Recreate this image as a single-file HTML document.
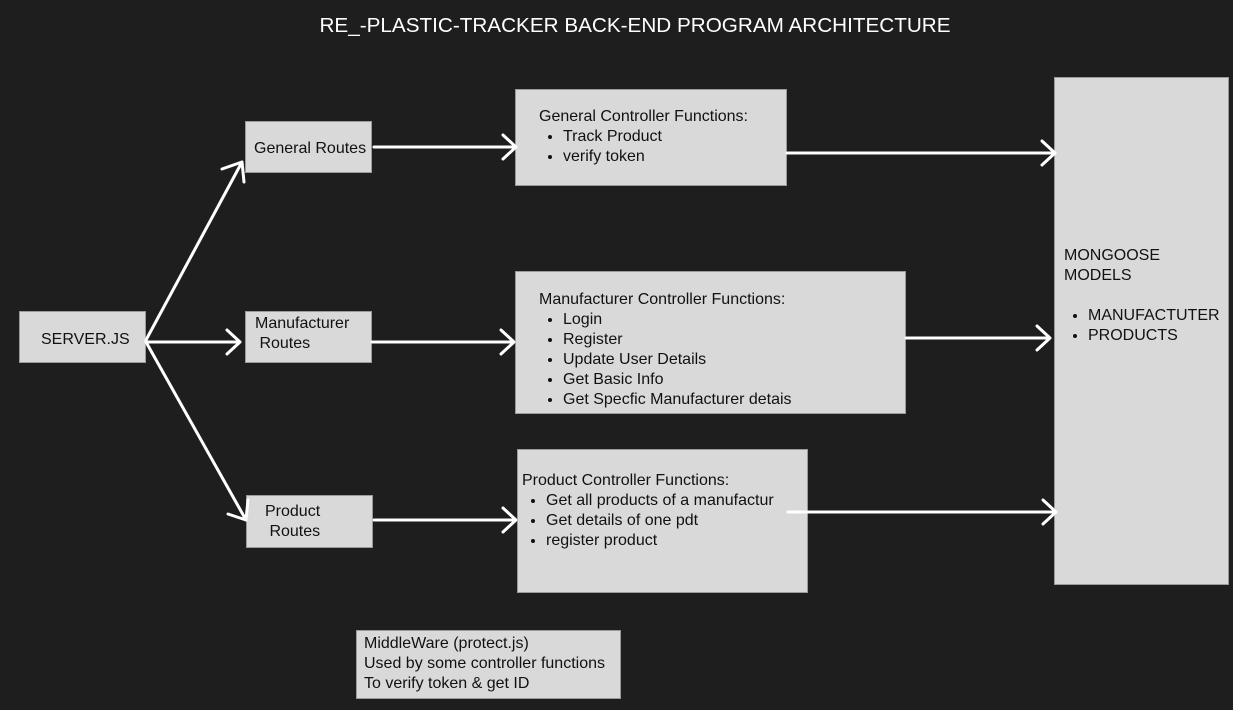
<!DOCTYPE html>
<html><head><meta charset="utf-8"><style>
body{margin:0;width:1233px;height:710px;background:#1e1e1e;overflow:hidden;position:relative;font-family:"Liberation Sans",sans-serif;}
.b{position:absolute;background:#d9d9d9;border:1px solid #9a9a9a;box-sizing:border-box;color:#111;font-size:16px;line-height:20px;}
.t{position:absolute;left:0;width:1270px;top:14px;text-align:center;color:#fff;font-size:20.7px;}
ul{margin:0;padding-left:24px;} li{margin:0;}
svg{position:absolute;left:0;top:0;}
</style></head><body>
<div class="t">RE_-PLASTIC-TRACKER BACK-END PROGRAM ARCHITECTURE</div>
<div class="b" style="left:19px;top:311px;width:127px;height:52px;padding:18px 0 0 21px">SERVER.JS</div>
<div class="b" style="left:245px;top:121px;width:127px;height:52px;padding:17px 0 0 8px">General Routes</div>
<div class="b" style="left:245px;top:311px;width:127px;height:52px;padding:2px 0 0 9px">Manufacturer<br>&nbsp;Routes</div>
<div class="b" style="left:246px;top:495px;width:127px;height:53px;padding:6px 0 0 18px">Product<br>&nbsp;Routes</div>
<div class="b" style="left:515px;top:89px;width:272px;height:97px;padding:17px 0 0 23px">General Controller Functions:<ul><li>Track Product</li><li>verify token</li></ul></div>
<div class="b" style="left:515px;top:271px;width:391px;height:143px;padding:18px 0 0 23px">Manufacturer Controller Functions:<ul><li>Login</li><li>Register</li><li>Update User Details</li><li>Get Basic Info</li><li>Get Specfic Manufacturer detais</li></ul></div>
<div class="b" style="left:517px;top:449px;width:291px;height:144px;padding:21px 0 0 4px">Product Controller Functions:<ul><li>Get all products of a manufactur</li><li>Get details of one pdt</li><li>register product</li></ul></div>
<div class="b" style="left:1054px;top:77px;width:175px;height:508px;padding:168px 0 0 9px">MONGOOSE<br>MODELS<br><br><ul style="padding-left:24px"><li>MANUFACTUTER</li><li>PRODUCTS</li></ul></div>
<div class="b" style="left:356px;top:630px;width:265px;height:69px;padding:3px 0 0 7px;line-height:20px">MiddleWare (protect.js)<br>Used by some controller functions<br>To verify token &amp; get ID</div>
<svg width="1233" height="710" fill="none" stroke="#fff" stroke-width="3" stroke-linecap="round" stroke-linejoin="round">
<path d="M146 340 L242 162 M222 169 L242 162 L244 182"/>
<path d="M146 342 L240 342 M227 330 L240 342 L227 354"/>
<path d="M146 342 L246 520 M228 514 L246 520 L248 500"/>
<path d="M374 147 L516 147 M503 135 L516 147 L503 159"/>
<path d="M372 342 L514 342 M501 330 L514 342 L501 354"/>
<path d="M374 520 L516 520 M503 508 L516 520 L503 532"/>
<path d="M787 153 L1055 153 M1042 141 L1055 153 L1042 165"/>
<path d="M906 338 L1050 338 M1037 326 L1050 338 L1037 350"/>
<path d="M788 512 L1056 512 M1043 500 L1056 512 L1043 524"/>
</svg>
</body></html>
